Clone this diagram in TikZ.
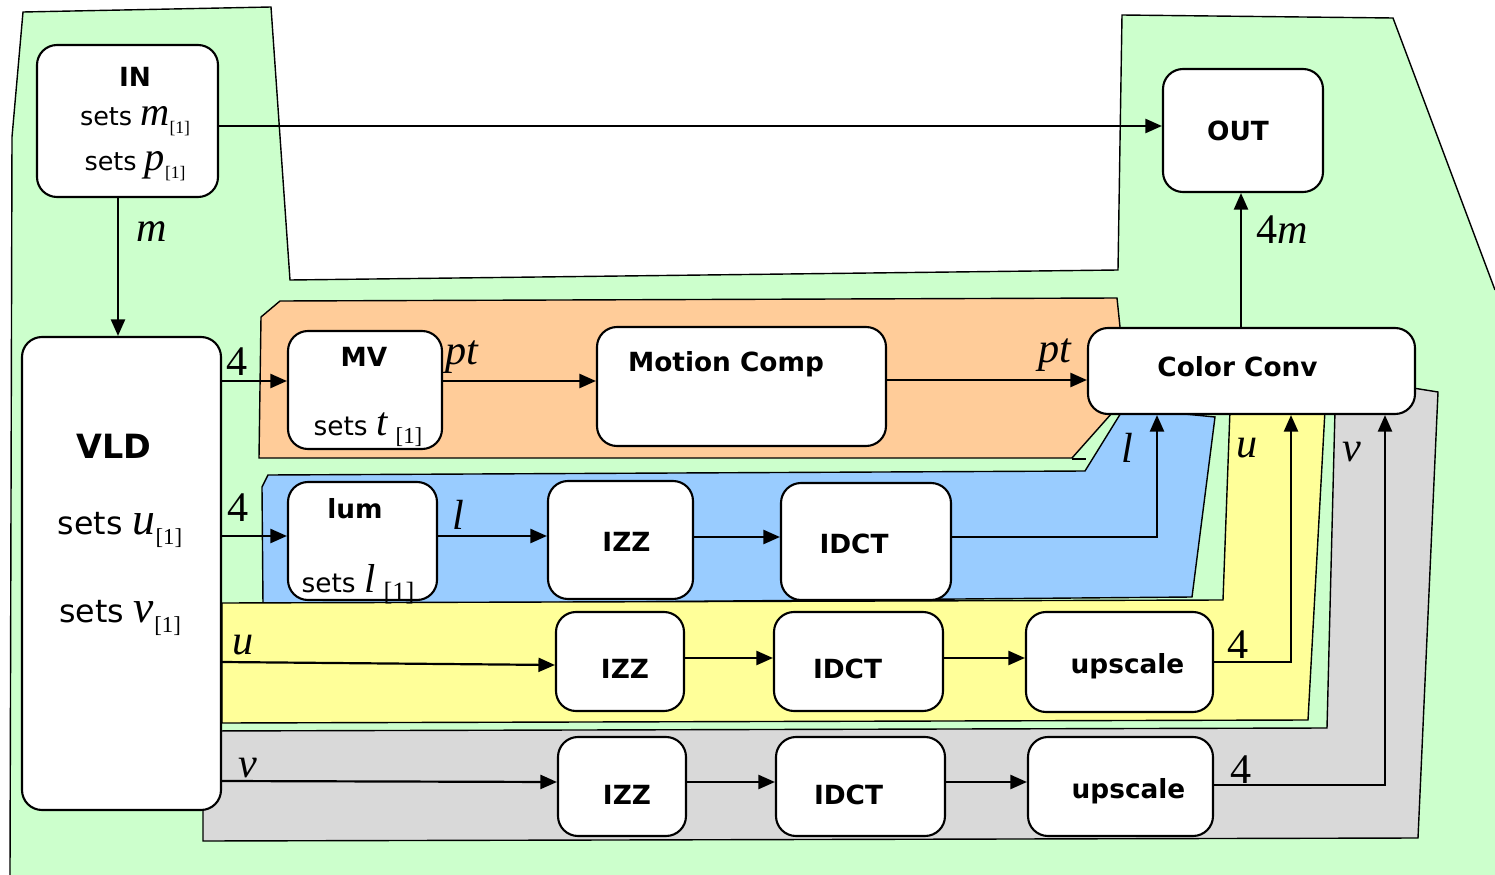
\documentclass[tikz,border=0pt]{standalone}
\usepackage{fontspec}
\setmainfont{DejaVu Sans}
\newfontfamily\tnr{Liberation Serif}
\usetikzlibrary{arrows.meta,fit}

\definecolor{zgreen}{HTML}{CCFFCC}
\definecolor{zorange}{HTML}{FFCC99}
\definecolor{zblue}{HTML}{99CCFF}
\definecolor{zyellow}{HTML}{FFFF99}
\definecolor{zgray}{HTML}{D9D9D9}

\newcommand\vr[1]{{\tnr\itshape #1}}
\newcommand\ix[1][13]{\raisebox{-0.55ex}{\tnr\fontsize{#1}{#1}\selectfont[1]}}

\tikzset{
  blk/.style={draw, fill=white, line width=1.2pt, rounded corners=0.4cm, inner sep=0pt},
  tag/.style={inner sep=0pt, font=\fontsize{15}{18}\selectfont\bfseries},
  zone/.style={draw, line width=0.8pt},
  lbl/.style={inner sep=0pt, font=\tnr\fontsize{24}{24}\selectfont},
  txt/.style={inner sep=0pt, font=\fontsize{14.5}{16}\selectfont},
}

\begin{document}
\begin{tikzpicture}[x=0.02cm, y=-0.02cm, line width=1.25pt,
    >={Triangle[length=0.33cm,width=0.28cm]}]
\useasboundingbox (0,0) rectangle (1495,875);

% coloured zones
\fill[zgreen] (23,12) -- (271,7) -- (290,280) -- (1118,270) -- (1122,15) -- (1393,18)
  -- (1495,290) -- (1495,875) -- (10,875) -- (12,137) -- cycle;
\draw[line width=0.8pt] (1495,290) -- (1393,18) -- (1122,15) -- (1118,270) -- (290,280)
  -- (271,7) -- (23,12) -- (12,137) -- (10,875);
\draw[zone, fill=zorange] (259,458) -- (261,317) -- (280,301) -- (1117,298) -- (1120,327)
  -- (1112,413) -- (1072,458) -- cycle;
\draw[line width=0.8pt] (1072,459) -- (1086,459);
\draw[zone, fill=zblue] (263,605) -- (262,487) -- (268,475) -- (1085,471) -- (1124,408)
  -- (1215,417) -- (1192,597) -- cycle;
\draw[zone, fill=zyellow] (222,603) -- (1223,600) -- (1230,410) -- (1325,410)
  -- (1308,720) -- (222,723) -- cycle;
\draw[zone, fill=zgray] (203,841) -- (203,731) -- (1327,728) -- (1335,410) -- (1413,388)
  -- (1438,392) -- (1418,838) -- cycle;

% blocks
\node[blk, fit={(37,45) (218,197)}] (in) {};
\node[blk, fit={(1163,69) (1323,192)}, label={[tag, shift={(-5,0)}]center:OUT}] (out) {};
\node[blk, fit={(22,337) (221,810)}] (vld) {};
\node[blk, fit={(288,331) (442,449)}] (mv) {};
\node[blk, fit={(597,327) (886,446)}] (mc) {};
\node[blk, fit={(1088,328) (1415,414)}, label={[tag, shift={(-14,-4)}]center:Color Conv}] (cc) {};
\node[blk, fit={(288,482) (437,600)}] (lum) {};
\node[blk, fit={(548,481) (693,599)}, label={[tag, shift={(6,2)}]center:IZZ}] (izza) {};
\node[blk, fit={(781,483) (951,600)}, label={[tag, shift={(-12,2)}]center:IDCT}] (idcta) {};
\node[blk, fit={(556,612) (684,711)}, label={[tag, shift={(5,7)}]center:IZZ}] (izzb) {};
\node[blk, fit={(774,612) (943,711)}, label={[tag, shift={(-11,7)}]center:IDCT}] (idctb) {};
\node[blk, fit={(1026,612) (1213,712)}, label={[tag, shift={(8,4)}]center:upscale}] (upa) {};
\node[blk, fit={(558,737) (686,836)}, label={[tag, shift={(5,8)}]center:IZZ}] (izzc) {};
\node[blk, fit={(776,737) (945,836)}, label={[tag, shift={(-12,8)}]center:IDCT}] (idctc) {};
\node[blk, fit={(1028,737) (1213,836)}, label={[tag, shift={(8,5)}]center:upscale}] (upb) {};

% texts inside the blocks
\node[tag] (intitle) at (135,77) {IN};
\node[txt] (inm) at (135,121) {sets \vr{\fontsize{23}{23}\selectfont m}\ix[10]};
\node[txt] (inp) at (135,166) {sets \vr{\fontsize{23}{23}\selectfont p}\ix[10]};
\node[tag, font=\fontsize{19}{22}\selectfont\bfseries] (vldtitle) at (114,446) {VLD};
\node[txt, font=\fontsize{18}{20}\selectfont] (vldu) at (120,530) {sets \vr{\fontsize{26}{26}\selectfont u}\ix};
\node[txt, font=\fontsize{18}{20}\selectfont] (vldv) at (120,618) {sets \vr{\fontsize{26}{26}\selectfont v}\ix};
\node[tag] (mvtitle) at (364,357) {MV};
\node[txt, font=\fontsize{15}{17}\selectfont] (mvt) at (368,430) {sets \vr{\fontsize{23}{23}\selectfont t} \ix};
\node[tag] (mctitle) at (726,364) {Motion Comp};
\node[tag] (lumtitle) at (355,509) {lum};
\node[txt, font=\fontsize{15}{17}\selectfont] (luml) at (358,584) {sets \vr{\fontsize{23}{23}\selectfont l} \ix[15]};

% connectors
\draw[->] (in.east |- 0,126) -- (out.west |- 0,126);
\draw[->] (in.south -| 118,0) -- (vld.north -| 118,0);
\draw[->] (cc.north -| 1241,0) -- (out.south -| 1241,0);
\draw[->] (vld.east |- 0,381) -- (mv.west |- 0,381);
\draw[->] (mv.east |- 0,381) -- (mc.west |- 0,381);
\draw[->] (mc.east |- 0,380) -- (cc.west |- 0,380);
\draw[->] (vld.east |- 0,536) -- (lum.west |- 0,536);
\draw[->] (lum.east |- 0,536) -- (izza.west |- 0,536);
\draw[->] (izza.east |- 0,537) -- (idcta.west |- 0,537);
\draw[->] (idcta.east |- 0,537) -| (cc.south -| 1157,0);
\draw[->] (vld.east |- 0,662) -- (izzb.west |- 0,665);
\draw[->] (izzb.east |- 0,658) -- (idctb.west |- 0,658);
\draw[->] (idctb.east |- 0,658) -- (upa.west |- 0,658);
\draw[->] (upa.east |- 0,662) -| (cc.south -| 1291,0);
\draw[->] (vld.east |- 0,781) -- (izzc.west |- 0,782);
\draw[->] (izzc.east |- 0,782) -- (idctc.west |- 0,782);
\draw[->] (idctc.east |- 0,782) -- (upb.west |- 0,782);
\draw[->] (upb.east |- 0,785) -| (cc.south -| 1385,0);

% connector labels
\node[lbl] (lm) at (152,232) {\vr{m}};
\node[lbl] (l4m) at (1282,230) {4\vr{m}};
\node[lbl] (l4a) at (237,362) {4};
\node[lbl] (lpta) at (462,357) {\vr{pt}};
\node[lbl] (lptb) at (1055,355) {\vr{pt}};
\node[lbl] (l4b) at (238,508) {4};
\node[lbl] (lla) at (458,515) {\vr{l}};
\node[lbl] (llb) at (1127,448) {\vr{l}};
\node[lbl] (lua) at (243,645) {\vr{u}};
\node[lbl] (lub) at (1247,448) {\vr{u}};
\node[lbl] (l4c) at (1238,645) {4};
\node[lbl] (lva) at (248,768) {\vr{v}};
\node[lbl] (lvb) at (1352,452) {\vr{v}};
\node[lbl] (l4d) at (1241,770) {4};
\end{tikzpicture}
\end{document}
